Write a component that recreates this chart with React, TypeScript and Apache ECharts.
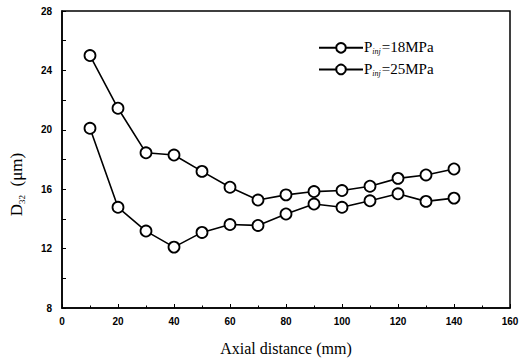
import React, { useEffect, useRef } from "react";
import * as echarts from "echarts";

const axialDistance = [10, 20, 30, 40, 50, 60, 70, 80, 90, 100, 110, 120, 130, 140];
const d32At18MPa = [25.0, 21.45, 18.45, 18.3, 17.2, 16.13, 15.27, 15.62, 15.84, 15.91, 16.2, 16.73, 16.96, 17.36];
const d32At25MPa = [20.1, 14.78, 13.18, 12.1, 13.09, 13.62, 13.56, 14.33, 15.0, 14.78, 15.22, 15.69, 15.18, 15.4];
const seriesNames = ["18MPa", "25MPa"];

export default function App() {
  const ref = useRef<HTMLDivElement>(null);
  useEffect(() => {
    if (!ref.current) return;
    const chart = echarts.init(ref.current, null, { renderer: "svg" });
    const mk = (name: string, vals: number[]) => ({
      name,
      type: "line",
      data: axialDistance.map((x, i) => [x, vals[i]]),
      symbol: "circle",
      symbolSize: 11,
      lineStyle: { color: "#000", width: 1.6 },
      itemStyle: { color: "#fff", borderColor: "#000", borderWidth: 1.8 },
      emphasis: { disabled: true },
    });
    const tickLabel = { color: "#000", fontFamily: "Liberation Sans", fontWeight: "bold", fontSize: 10 };
    const legendRich = {
      p: { fontFamily: "Liberation Serif", fontSize: 15, fill: "#000", letterSpacing: 2 },
      s: { fontFamily: "Liberation Serif", fontSize: 8, fontStyle: "italic", fill: "#000", padding: [9, 1, 0, 0] },
    };
    chart.setOption({
      animation: false,
      backgroundColor: "#fff",
      grid: { left: 61, right: 17, top: 11, bottom: 55, show: true, borderColor: "#000", borderWidth: 1.5, backgroundColor: "transparent" },
      legend: {
        orient: "vertical",
        left: 318,
        top: 42,
        padding: 0,
        itemWidth: 44,
        itemHeight: 12,
        itemGap: 10,
        data: seriesNames,
        formatter: () => " ",
        textStyle: { color: "#000", fontSize: 8 },
      },
      graphic: seriesNames.map((n, i) => ({
        type: "text",
        left: 364,
        top: 39 + i * 22,
        style: {
          text: `{p|P}{s|inj}{p|=${n}}`,
          rich: legendRich,
          fill: "#000",
        },
      })),
      xAxis: {
        type: "value",
        min: 0,
        max: 160,
        interval: 20,
        name: "Axial distance (mm)",
        nameLocation: "middle",
        nameGap: 32,
        nameTextStyle: { fontFamily: "Liberation Serif", fontSize: 16, color: "#000", letterSpacing: 3 },
        axisLine: { show: true, lineStyle: { color: "#000", width: 1.5 } },
        axisTick: { show: true, inside: true, length: 4, lineStyle: { color: "#000" } },
        minorTick: { show: true, splitNumber: 2, length: 2.5, lineStyle: { color: "#000" } },
        axisLabel: { ...tickLabel, margin: 8 },
        splitLine: { show: false },
      },
      yAxis: {
        type: "value",
        min: 8,
        max: 28,
        interval: 4,
        name: "{d|D}{s|32}{d|  (μm)}",
        nameLocation: "middle",
        nameGap: 36,
        nameTextStyle: {
          color: "#000",
          padding: [0, 50, 0, 0],
          rich: {
            d: { fontFamily: "Liberation Serif", fontSize: 17, color: "#000" },
            s: { fontFamily: "Liberation Serif", fontSize: 9, color: "#000", padding: [10, 0, 0, 0] },
          },
        },
        axisLine: { show: true, lineStyle: { color: "#000", width: 1.5 } },
        axisTick: { show: true, inside: true, length: 4, lineStyle: { color: "#000" } },
        minorTick: { show: true, splitNumber: 2, length: 4, lineStyle: { color: "#000" } },
        axisLabel: { ...tickLabel, margin: 10 },
        splitLine: { show: false },
      },
      series: [mk(seriesNames[0], d32At18MPa), mk(seriesNames[1], d32At25MPa)],
    });
    return () => chart.dispose();
  }, []);
  return <div ref={ref} style={{ width: 527, height: 363, position: "absolute", left: 0, top: 0 }} />;
}
